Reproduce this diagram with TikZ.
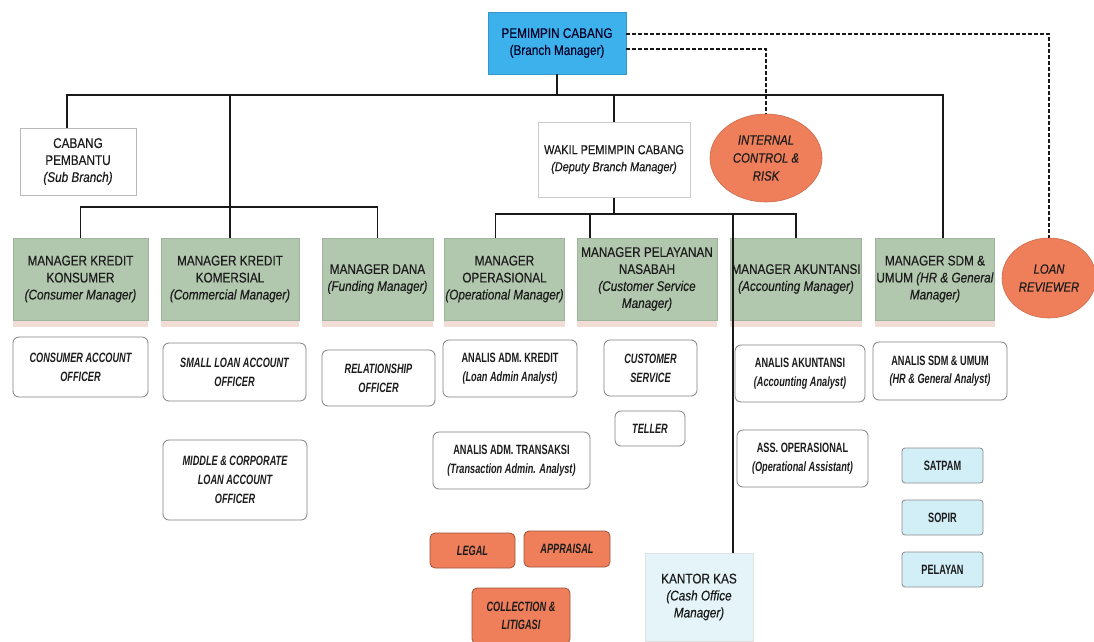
\documentclass[tikz,border=0pt]{standalone}
\usepackage{fontspec}
\setmainfont{Liberation Sans}[FakeStretch=0.84,FakeBold=0.35]
\newfontfamily\nar{Liberation Sans}[FakeStretch=0.68]
\usetikzlibrary{calc,shapes.geometric,shadows}
\definecolor{bmblue}{HTML}{3DB1EC}
\definecolor{mgreen}{HTML}{B2C8AE}
\definecolor{ora}{HTML}{EF7F5B}
\definecolor{lblue}{HTML}{D2EEF7}
\definecolor{kblue}{HTML}{E4F4F9}
\definecolor{txt}{HTML}{1C1C1C}
\definecolor{shd}{HTML}{F2DCD6}
\tikzset{
  base/.style={align=center, inner sep=1pt, text=txt, font=\fontsize{14}{17}\selectfont},
  bmbox/.style={base, rectangle, fill=bmblue, draw=bmblue!85!black, line width=0.6pt, text=black!85!blue},
  whbox/.style={base, rectangle, fill=white, draw=black!28, line width=1pt},
  mgr/.style={base, rectangle, fill=mgreen, draw=mgreen!90!black, line width=0.5pt,
    drop shadow={shadow xshift=0pt, shadow yshift=-7pt, fill=shd, opacity=1}},
  off/.style={base, rectangle, rounded corners=6pt, fill=white, draw=black!50, line width=0.8pt,
    font=\nar\bfseries\fontsize{13.5}{18.5}\selectfont},
  offit/.style={off, font=\nar\bfseries\itshape\fontsize{13.5}{19}\selectfont},
  aux/.style={base, rectangle, rounded corners=3pt, fill=lblue, draw=black!45, line width=0.8pt,
    font=\nar\bfseries\fontsize{13.5}{16}\selectfont},
  orbox/.style={base, rectangle, rounded corners=5pt, fill=ora, draw=ora!65!black, line width=0.8pt,
    font=\nar\bfseries\itshape\fontsize{13.5}{18}\selectfont},
  oval/.style={base, ellipse, inner sep=0pt, fill=ora, draw=ora!85!black, line width=0.6pt,
    font=\itshape\fontsize{13.5}{18}\selectfont},
  kasbox/.style={base, rectangle, fill=kblue, draw=black!12, line width=0.6pt},
  conn/.style={line width=1.9pt, draw=black!90},
  dsh/.style={line width=1.5pt, draw=black!90, dash pattern=on 4pt off 2pt}
}
\begin{document}
\begin{tikzpicture}[x=1pt,y=-1pt]
\fill[white] (0,0) rectangle (1094,641);
\useasboundingbox (0,0) rectangle (1094,641);

% top level
\node[bmbox, minimum width=138pt, minimum height=62pt] (bm) at (557,43) {PEMIMPIN CABANG\\(Branch Manager)};
\node[whbox, minimum width=116pt, minimum height=67pt] (cp) at (78,161.5) {CABANG\\PEMBANTU\\\textit{(Sub Branch)}};
\node[whbox, draw=black!20, minimum width=152pt, minimum height=75pt, font=\fontsize{13}{17}\selectfont] (wk) at (614,159.5) {WAKIL PEMIMPIN CABANG\\\textit{(Deputy Branch Manager)}};
\node[oval, minimum width=112pt, minimum height=88pt] (icr) at (766,158) {INTERNAL\\CONTROL \&\\RISK};

% managers
\node[mgr, minimum width=135pt, minimum height=82pt] (mk) at (80.5,279) {MANAGER KREDIT\\KONSUMER\\\textit{(Consumer Manager)}};
\node[mgr, minimum width=138pt, minimum height=82pt] (mkm) at (230,279) {MANAGER KREDIT\\KOMERSIAL\\\textit{(Commercial Manager)}};
\node[mgr, minimum width=111pt, minimum height=82pt] (md) at (377.5,279) {MANAGER DANA\\\textit{(Funding Manager)}};
\node[mgr, minimum width=115pt, minimum height=82pt] (mo) at (504.5,279) {MANAGER\\OPERASIONAL\\\textit{(Operational Manager)}};
\node[mgr, minimum width=140pt, minimum height=82pt] (mp) at (647,279) {MANAGER PELAYANAN\\NASABAH\\\textit{(Customer Service}\\\textit{Manager)}};
\node[mgr, minimum width=118pt, minimum height=82pt] (ma) at (796,279) {MANAGER AKUNTANSI\\\textit{(Accounting Manager)}};
\node[mgr, minimum width=116pt, minimum height=82pt] (ms) at (935,279) {MANAGER SDM \&\\UMUM \textit{(HR \& General}\\\textit{Manager)}};
\node[oval, minimum width=94pt, minimum height=80pt] (lr) at (1049,278) {LOAN\\REVIEWER};

% officers
\node[offit, minimum width=135pt, minimum height=60pt] (o1) at (80.5,367) {CONSUMER ACCOUNT\\OFFICER};
\node[offit, minimum width=143pt, minimum height=58pt] (o2) at (234.5,372) {SMALL LOAN ACCOUNT\\OFFICER};
\node[offit, minimum width=113pt, minimum height=56pt] (o3) at (378.5,378) {RELATIONSHIP\\OFFICER};
\node[off, minimum width=134pt, minimum height=57pt] (o4) at (510,368.5) {ANALIS ADM. KREDIT\\\textit{(Loan Admin Analyst)}};
\node[offit, minimum width=93pt, minimum height=56pt] (o5) at (650.5,368) {CUSTOMER\\SERVICE};
\node[off, minimum width=130pt, minimum height=57pt] (o6) at (800,373.5) {ANALIS AKUNTANSI\\\textit{(Accounting Analyst)}};
\node[off, minimum width=134pt, minimum height=58pt] (o7) at (940,371) {ANALIS SDM \& UMUM\\\textit{(HR \& General Analyst)}};
\node[offit, minimum width=144pt, minimum height=80pt] (o8) at (235,480) {MIDDLE \& CORPORATE\\LOAN ACCOUNT\\OFFICER};
\node[off, minimum width=157pt, minimum height=57pt] (o9) at (511.5,460.5) {ANALIS ADM. TRANSAKSI\\\textit{(Transaction Admin. Analyst)}};
\node[offit, minimum width=70pt, minimum height=35pt] (o10) at (650,428.5) {TELLER};
\node[off, minimum width=131pt, minimum height=57pt] (o11) at (802.5,458.5) {ASS. OPERASIONAL\\\textit{(Operational Assistant)}};

% support staff
\node[aux, minimum width=81pt, minimum height=35pt] (s1) at (942.5,465.5) {SATPAM};
\node[aux, minimum width=81pt, minimum height=35pt] (s2) at (942.5,517.5) {SOPIR};
\node[aux, minimum width=81pt, minimum height=35pt] (s3) at (942.5,569.5) {PELAYAN};

% bottom
\node[orbox, minimum width=85pt, minimum height=35pt] (lg) at (472.5,550.5) {LEGAL};
\node[orbox, minimum width=86pt, minimum height=36pt] (ap) at (567,549) {APPRAISAL};
\node[orbox, minimum width=98pt, minimum height=56pt] (cl) at (521,616) {COLLECTION \&\\LITIGASI};
\node[kasbox, minimum width=108pt, minimum height=88pt] (kas) at (699,597) {KANTOR KAS\\\textit{(Cash Office}\\\textit{Manager)}};

% solid connectors
\coordinate (mL) at (67,95);
\coordinate (mR) at (943,95);
\draw[conn] (mL |- cp.north) -- (mL) -- (mR) -- (mR |- ms.north);
\draw[conn] (bm.south) -- (bm.south |- mL);
\draw[conn] (wk.north) -- (wk.north |- mL);
\draw[conn] (mkm.north) -- (mkm.north |- mL);
\coordinate (lb) at (0,207);
\draw[conn] (mk.north) -- (mk.north |- lb) -- (md.north |- lb) -- (md.north);
\coordinate (wb) at (0,214);
\coordinate (opx) at ($(mo.north)+(-9,0)$);
\coordinate (pex) at ($(mp.north west)+(13,0)$);
\draw[conn] (wk.south) -- (wk.south |- wb);
\draw[conn] (opx) -- (opx |- wb) -- (ma.north |- wb) -- (ma.north);
\draw[conn] (pex |- wb) -- (pex);
\coordinate (kj) at (733,214);
\draw[conn] (kj) -- (kj |- kas.north);

% dashed connectors
\draw[dsh] ($(bm.east)+(0,6)$) -| (icr.north);
\draw[dsh] ($(bm.east)+(0,-9)$) -| (lr.north);
\end{tikzpicture}
\end{document}
